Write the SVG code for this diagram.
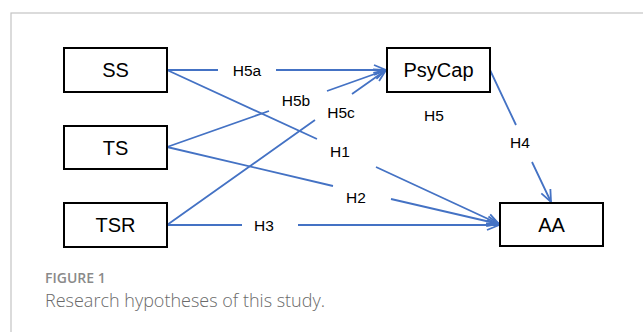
<svg xmlns="http://www.w3.org/2000/svg" width="643" height="332" viewBox="0 0 643 332">
<defs>
<style>
.frame{fill:#fff;stroke:#c4c4c4;stroke-width:1.2}
.node rect{fill:#fff;stroke:#000;stroke-width:2}
.node text{font-family:"Liberation Sans",Arial,sans-serif;font-size:20px;fill:#000;text-anchor:middle}
.conn path{fill:none;stroke:#4472C4;stroke-width:1.8;marker-end:url(#arr)}
.lbl{font-family:"Liberation Sans",Arial,sans-serif;font-size:15.5px;fill:#000;text-anchor:middle}
.figno{font-family:"Open Sans",sans-serif;font-size:14px;font-weight:600;fill:#8a8a8a}
.cap{font-family:"Open Sans",sans-serif;font-size:18px;font-weight:300;fill:#6a6a6a}
</style>
<marker id="arr" markerUnits="userSpaceOnUse" markerWidth="16" markerHeight="14" refX="13" refY="6" orient="auto" viewBox="0 0 16 12">
<path d="M1,1 L13,6 L1,11" fill="none" stroke="#4472C4" stroke-width="1.8"/>
</marker>
</defs>
<rect width="643" height="332" fill="#fff"/>
<rect class="frame" x="11" y="13" width="650" height="340"/>
<g class="conn">
<path id="e-h5a" d="M167,70 L218,70 M276,70 L386,70"/>
<path id="e-h1" d="M167,70 L317,139 M376,167 L499,224"/>
<path id="e-h5b" d="M167,147 L269,111 M327,91 L386,70"/>
<path id="e-h5c" d="M167,225 L315,120 M352,94 L386,70"/>
<path id="e-h2" d="M167,147 L333,186 M391,199 L499,224"/>
<path id="e-h3" d="M167,225 L242,225 M298,225 L499,225"/>
<path id="e-h4" d="M490,70 L516,125 M532,162 L551,202"/>
</g>
<g class="labels">
<text class="lbl" x="247" y="76">H5a</text>
<text class="lbl" x="296" y="106">H5b</text>
<text class="lbl" x="341" y="118">H5c</text>
<text class="lbl" x="434" y="121">H5</text>
<text class="lbl" x="340" y="157">H1</text>
<text class="lbl" x="356" y="203">H2</text>
<text class="lbl" x="264" y="231">H3</text>
<text class="lbl" x="520" y="148">H4</text>
</g>
<g id="SS" class="node"><rect x="64" y="48" width="103" height="44"/><text x="115.5" y="77">SS</text></g>
<g id="TS" class="node"><rect x="64" y="126" width="103" height="43"/><text x="115.5" y="154.5">TS</text></g>
<g id="TSR" class="node"><rect x="64" y="203" width="103" height="44"/><text x="115.5" y="232">TSR</text></g>
<g id="PsyCap" class="node"><rect x="387" y="48" width="103" height="44"/><text x="438.5" y="77">PsyCap</text></g>
<g id="AA" class="node"><rect x="500" y="203" width="103" height="43"/><text x="551.5" y="231.5">AA</text></g>
<text class="figno" x="45" y="283">FIGURE 1</text>
<text class="cap" x="45" y="307">Research hypotheses of this study.</text>
</svg>
